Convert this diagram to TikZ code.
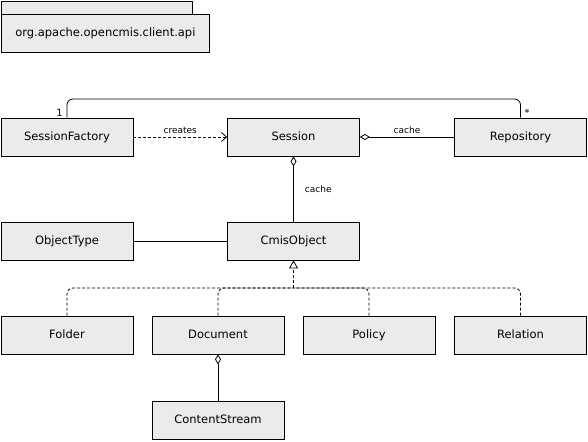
\documentclass[tikz,border=0pt]{standalone}
\usepackage{fontspec}
\setmainfont{DejaVu Sans}
\usetikzlibrary{arrows.meta}
\definecolor{boxfill}{RGB}{235,235,235}
\tikzset{
  cls/.style={draw=black, fill=boxfill, line width=0.8pt, minimum width=132pt, minimum height=38pt, inner sep=0pt, text height=8.5pt, text depth=2pt, font=\fontsize{11.5}{13}\selectfont},
  lbl/.style={font=\fontsize{9}{10}\selectfont, inner sep=1pt},
  mult/.style={font=\fontsize{10}{11}\selectfont, inner sep=1pt},
  conn/.style={line width=0.8pt},
  aggr/.style={conn, {Diamond[open,length=10pt,width=6pt]}-},
  dep/.style={conn, dashed, dash pattern=on 3pt off 2pt, -{Straight Barb[length=5pt,width=9pt]}},
  real/.style={conn, dashed, dash pattern=on 3pt off 2pt}
}
\begin{document}
\begin{tikzpicture}[x=1pt,y=-1pt]
\useasboundingbox (0,0) rectangle (588,441);
% package
\fill[boxfill] (1,1) rectangle (192,14);
\draw[line width=0.8pt] (1,14) -- (1,1) -- (192,1) -- (192,14);
\node[cls, minimum width=208pt, minimum height=38pt, anchor=north west] (pkg) at (1,14) {org.apache.opencmis.client.api};
% classes
\node[cls] (sf) at (67,137) {SessionFactory};
\node[cls] (session) at (293.5,137) {Session};
\node[cls] (repo) at (520.5,137) {Repository};
\node[cls] (otype) at (67,241) {ObjectType};
\node[cls] (cmis) at (293.5,241) {CmisObject};
\node[cls] (folder) at (67,335) {Folder};
\node[cls] (doc) at (218,335) {Document};
\node[cls] (policy) at (369,335) {Policy};
\node[cls] (rel) at (520.5,335) {Relation};
\node[cls] (cs) at (218,420.5) {ContentStream};
% top association
\coordinate (topy) at (0,99);
\draw[conn, rounded corners=6pt] (sf.north) |- (topy -| session.north) -| (repo.north);
\node[mult, anchor=south east] at ([xshift=-3pt]sf.north) {1};
\node[mult, anchor=south west] at ([xshift=3pt]repo.north) {*};
% creates
\draw[dep] (sf.east) -- node[lbl, above=2pt] {creates} (session.west);
% session - repository
\draw[aggr] (session.east) -- node[lbl, above=2pt] {cache} (repo.west);
% session - cmis
\draw[aggr] (session.south) -- node[lbl, right=10pt] {cache} (cmis.north);
% objecttype - cmis
\draw[conn] (otype.east) -- (cmis.west);
% realization / inheritance
\coordinate (j) at (293.5,288);
\draw[real, -{Triangle[open,length=8pt,width=9pt]}] (j) -- (cmis.south);
\draw[real, rounded corners=6pt] (folder.north) |- (j);
\draw[real, rounded corners=6pt] (doc.north) |- (j);
\draw[real, rounded corners=6pt] (policy.north) |- (j);
\draw[real, rounded corners=6pt] (rel.north) |- (j);
% document - contentstream
\draw[aggr] (doc.south) -- (cs.north);
\end{tikzpicture}
\end{document}
